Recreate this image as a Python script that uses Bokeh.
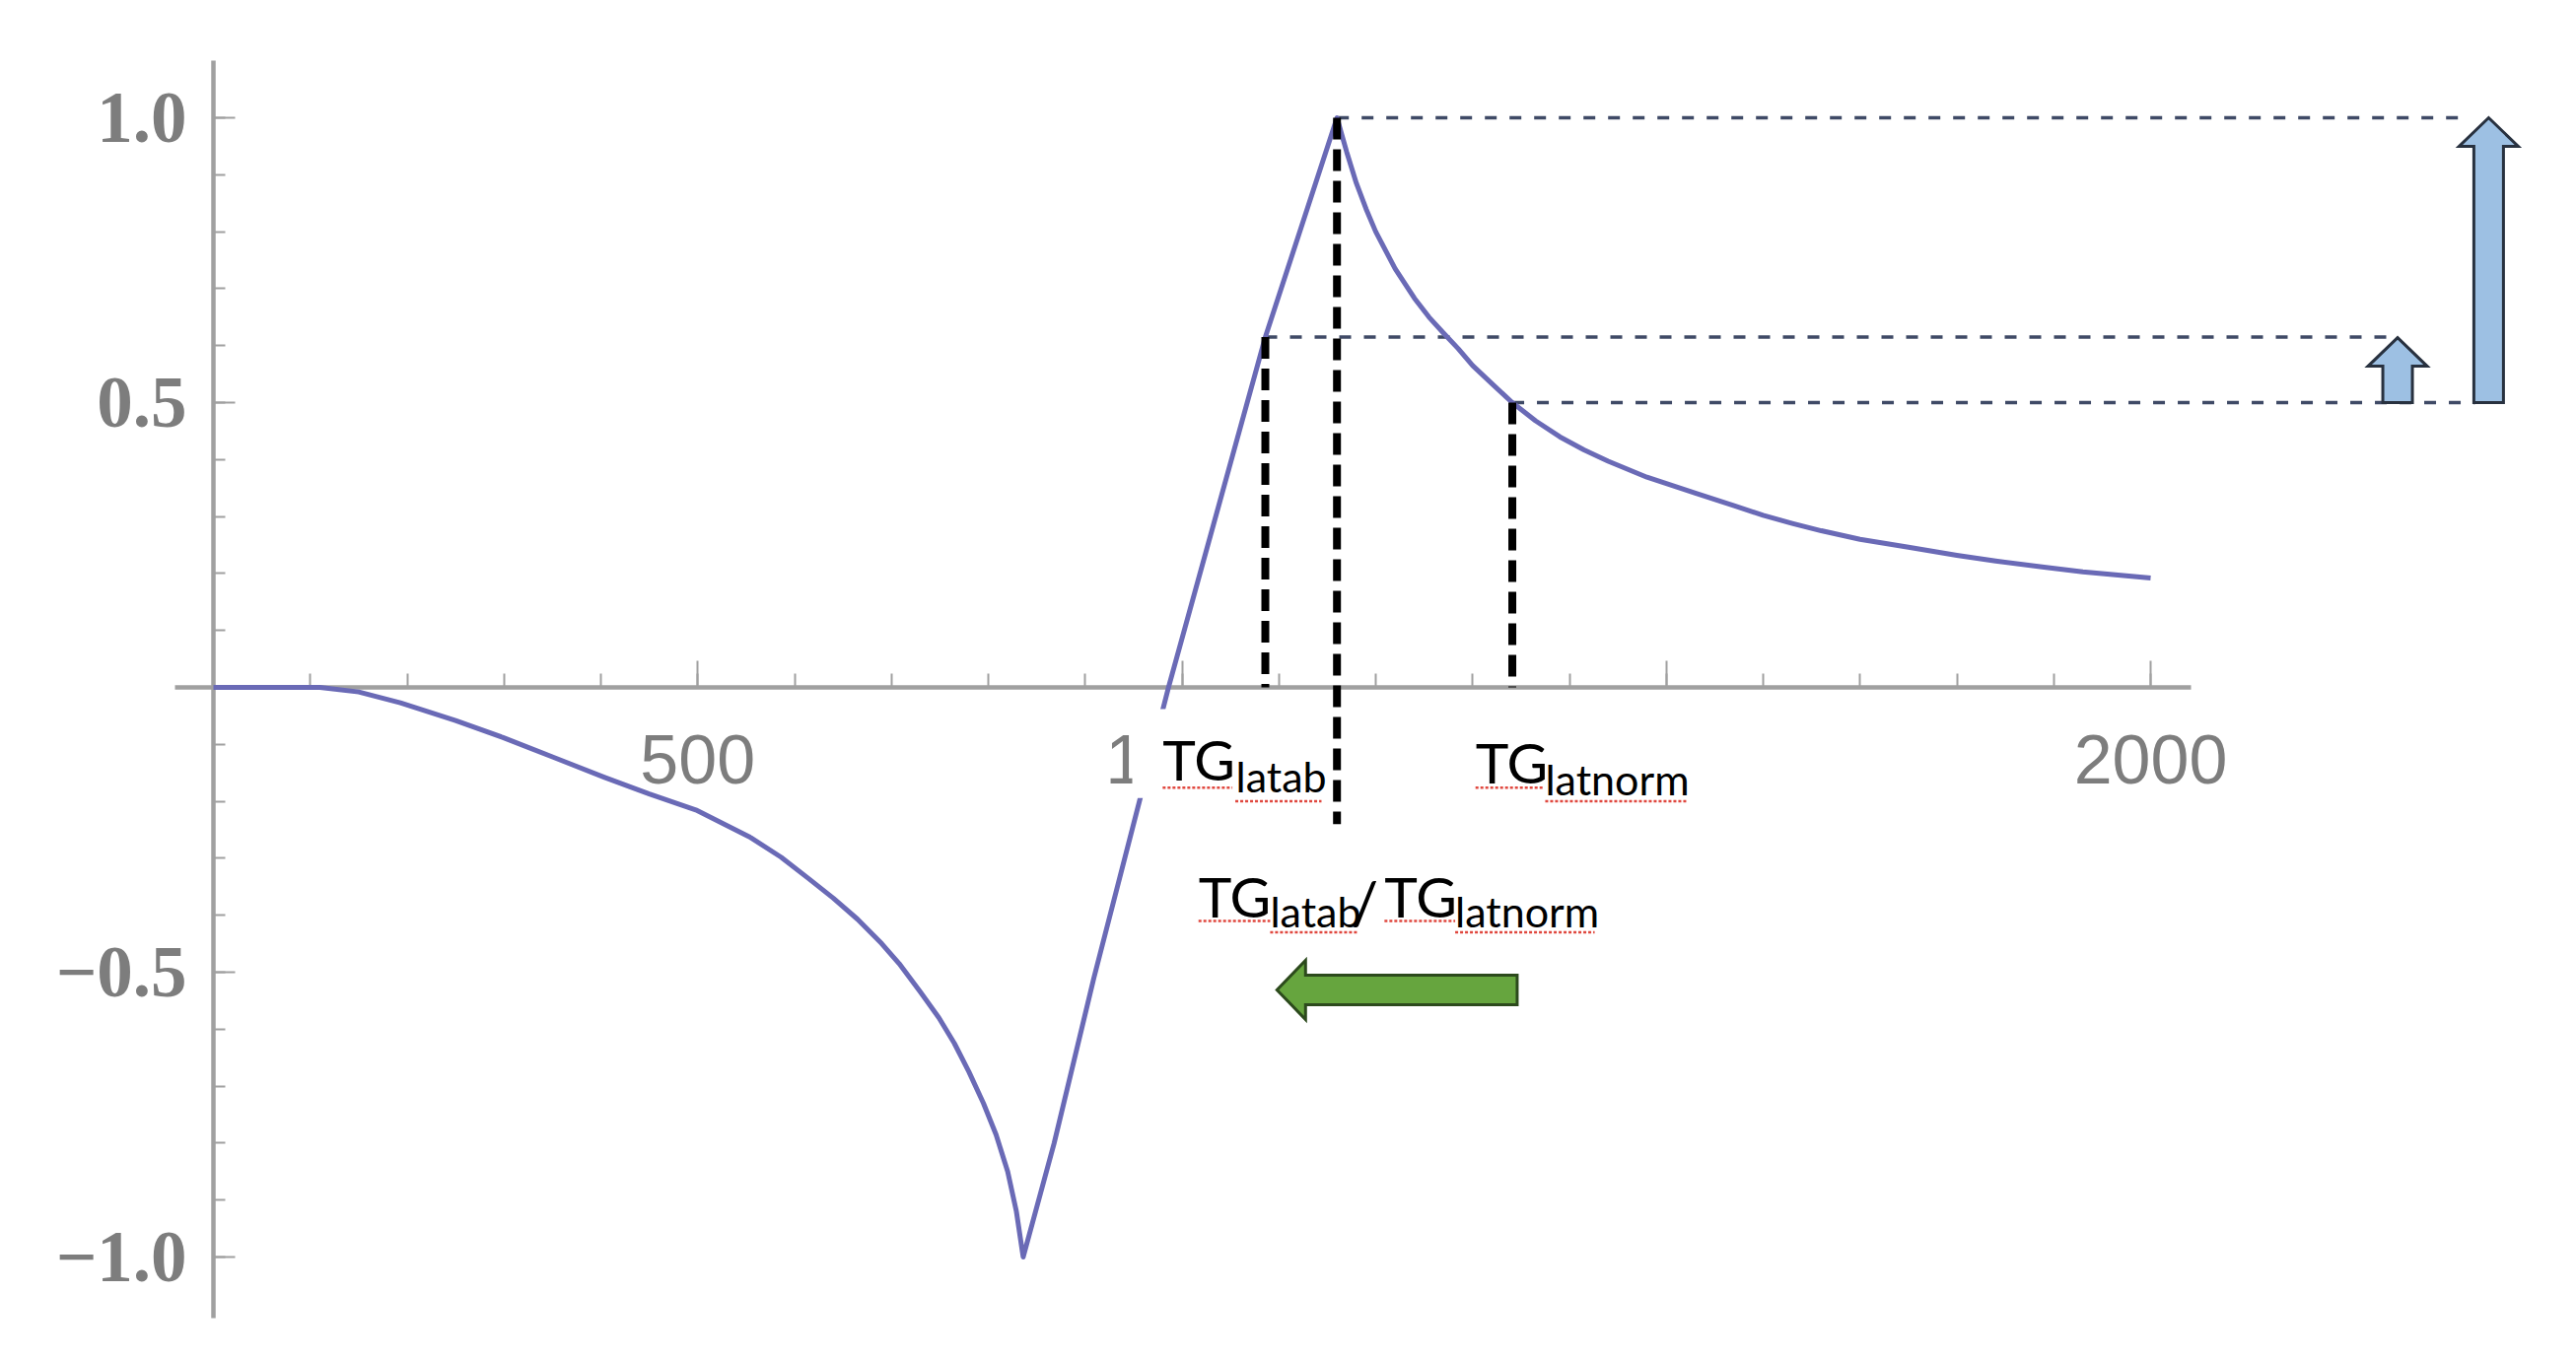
from bokeh.plotting import figure
from bokeh.models import Range1d, FixedTicker, ColumnDataSource
from bokeh.core.properties import value
from bokeh.embed import file_html
from bokeh.resources import INLINE

# ---------------- data ----------------
curve_x = [0, 60, 110, 150, 193, 250, 299, 350, 404, 450, 498, 553, 586, 614, 640,
           665, 690, 708, 730, 749, 765, 780, 795, 808, 820, 829, 836,
           868, 909, 956, 986, 1086, 1160,
           1170, 1180, 1190, 1200, 1220, 1240, 1255, 1270, 1285, 1300, 1320, 1341,
           1365, 1390, 1415, 1440, 1480, 1530, 1570, 1600, 1630, 1660, 1700, 1750,
           1800, 1840, 1890, 1930, 2000]
curve_y = [0.0, 0.0, 0.0, -0.008, -0.027, -0.058, -0.088, -0.122, -0.158, -0.187,
           -0.215, -0.262, -0.298, -0.335, -0.37, -0.407, -0.45, -0.485, -0.535,
           -0.58, -0.625, -0.675, -0.73, -0.785, -0.85, -0.92, -1.0,
           -0.8, -0.51, -0.2, 0.0, 0.615, 1.0,
           0.94, 0.885, 0.84, 0.80, 0.735, 0.683, 0.65, 0.622, 0.595, 0.565, 0.533,
           0.50, 0.468, 0.44, 0.417, 0.397, 0.369, 0.341, 0.319, 0.302, 0.288, 0.275,
           0.26, 0.246, 0.232, 0.222, 0.211, 0.203, 0.192]

x_major_ticks = [500, 1000, 1500, 2000]
x_minor_ticks = list(range(100, 2001, 100))
# "1000" is mostly hidden behind the TGlatab box and "1500" behind TGlatnorm
x_tick_labels = {1000: "1\u2007\u2007\u2007", 1500: ""}
y_major_ticks = [-1.0, -0.5, 0.5, 1.0]
y_minor_ticks = [round(-1.0 + 0.1 * i, 1) for i in range(21)]
y_tick_labels = {-1.0: "\u22121.0", -0.5: "\u22120.5", 0.5: "0.5", 1.0: "1.0"}

# marked points on the curve (TGlatab, peak, TGlatnorm)
mark_x = [1086, 1160, 1341]
mark_y = [0.615, 1.0, 0.5]
mark_drop_to = [0.0, -0.24, 0.0]
mark_h_end = [2255, 2330, 2335]

# block arrows
up_arrow_x = [2255, 2349]
up_arrow_from = [0.5, 0.5]
up_arrow_to = [0.614, 1.0]
left_arrow_tail = 1346
left_arrow_tip = 1098
left_arrow_y = -0.531

# text annotations (main part + subscript)
label_text = ["TG", "latab", "TG", "latnorm", "TG", "latab", "/", "TG", "latnorm"]
label_x = [980, 1055.5, 1303, 1375, 1017, 1091, 1175, 1209, 1282]
label_y = [-0.125, -0.156, -0.130, -0.161, -0.366, -0.392, -0.377, -0.366, -0.392]
label_size = ["57px", "43px", "57px", "43px", "57px", "43px", "60px", "57px", "43px"]

# spell-check underline marks under the words
squig_x0 = [980, 1055, 1303, 1375, 1017, 1091, 1209, 1282]
squig_x1 = [1052, 1144, 1373, 1521, 1091, 1181, 1282, 1426]
squig_y = [-0.176, -0.200, -0.176, -0.200, -0.410, -0.430, -0.410, -0.430]

# white label boxes (hide the curve underneath)
box_left = [948.6, 1293.6]
box_right = [1154, 1594]
box_top = [-0.038, -0.038]
box_bottom = [-0.194, -0.194]

# ---------------- figure ----------------
W, H = 2597, 1365
X0, X1 = -219.85, 2423.4
Y0, Y1 = -1.1557, 1.2059
XS = W / (X1 - X0)   # px per x unit
YS = H / (Y1 - Y0)   # px per y unit

p = figure(width=W, height=H, x_range=Range1d(X0, X1), y_range=Range1d(Y0, Y1),
           output_backend="svg", toolbar_location=None, min_border=0,
           outline_line_color=None, background_fill_color="white",
           border_fill_color="white")
p.grid.visible = False

axis_gray = "#a0a0a0"
for ax in (p.xaxis[0], p.yaxis[0]):
    ax.fixed_location = 0
    ax.axis_line_color = axis_gray
    ax.axis_line_width = 4.5
    ax.major_tick_line_color = axis_gray
    ax.minor_tick_line_color = axis_gray
    ax.major_tick_line_width = 2
    ax.minor_tick_line_width = 2
    ax.major_tick_out = 0
    ax.minor_tick_out = 0
    ax.major_label_text_color = "#7d7d7d"

xa = p.xaxis[0]
xa.bounds = (-40, 2042)
xa.ticker = FixedTicker(ticks=x_major_ticks, minor_ticks=x_minor_ticks)
xa.major_label_overrides = x_tick_labels
xa.major_tick_in = 27
xa.minor_tick_in = 14
xa.major_label_text_font = "Liberation Sans"
xa.major_label_text_font_size = "70px"
xa.major_label_standoff = 34

ya = p.yaxis[0]
ya.bounds = (-1.108, 1.10)
ya.ticker = FixedTicker(ticks=y_major_ticks, minor_ticks=y_minor_ticks)
ya.major_label_overrides = y_tick_labels
ya.major_tick_in = 22
ya.minor_tick_in = 12
ya.major_label_text_font = "Liberation Serif"
ya.major_label_text_font_style = "bold"
ya.major_label_text_font_size = "73px"
ya.major_label_standoff = 27

# horizontal dashed reference lines
p.segment(x0=mark_x, y0=mark_y, x1=mark_h_end, y1=mark_y, line_color="#3f4a66",
          line_width=3.5, line_dash="12 13")

# the curve
curve = p.line(curve_x, curve_y, line_color="#6a6ab6", line_width=5,
               line_join="round")
curve.level = "annotation"

# white label boxes
boxes = p.quad(left=box_left, right=box_right, top=box_top, bottom=box_bottom,
               fill_color="white", line_color=None)
boxes.level = "overlay"

# black dashed verticals
vd = p.segment(x0=mark_x, y0=mark_y, x1=mark_x, y1=mark_drop_to, line_color="black",
               line_width=8, line_dash="22 10")
vd.level = "overlay"

# texts
src = ColumnDataSource(dict(x=label_x, y=label_y, t=label_text, s=label_size))
tx = p.text(x="x", y="y", text="t", source=src, text_font=value("Lato"),
            text_font_size="s", text_color="black", text_align="left",
            text_baseline="alphabetic")
tx.level = "overlay"

sq = p.segment(x0=squig_x0, y0=squig_y, x1=squig_x1, y1=squig_y, line_color="#e0483f",
               line_width=2.5, line_dash="3 2")
sq.level = "overlay"

# block arrows (geometry in px converted to data units)
SHAFT_HALF, HEAD_HALF, HEAD_LEN = 15, 30, 29
up_xs, up_ys = [], []
for cx, y0, y1 in zip(up_arrow_x, up_arrow_from, up_arrow_to):
    sh, hh, yb = SHAFT_HALF / XS, HEAD_HALF / XS, y1 - HEAD_LEN / YS
    up_xs.append([cx - sh, cx - sh, cx - hh, cx, cx + hh, cx + sh, cx + sh])
    up_ys.append([y0, yb, yb, y1, yb, yb, y0])
ua = p.patches(up_xs, up_ys, fill_color="#9dc0e3", line_color="#28313f",
               line_width=3, line_join="miter")
ua.level = "overlay"

xb = left_arrow_tip + HEAD_LEN / XS
sh, hh = SHAFT_HALF / YS, HEAD_HALF / YS
ly = left_arrow_y
la = p.patches([[left_arrow_tail, xb, xb, left_arrow_tip, xb, xb, left_arrow_tail]],
               [[ly + sh, ly + sh, ly + hh, ly, ly - hh, ly - sh, ly - sh]],
               fill_color="#66a53e", line_color="#2c4a1c", line_width=3,
               line_join="miter")
la.level = "overlay"

open("out.html", "w").write(file_html(p, INLINE))
